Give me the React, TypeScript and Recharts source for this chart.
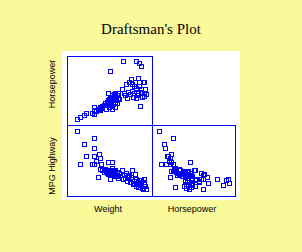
import { ScatterChart, Scatter, XAxis, YAxis } from "recharts";

// one entry per car: weight (lbs), horsepower, highway mpg
const weight = [
  1840, 1960, 2090, 2460, 2180, 2370, 2440, 2460, 2470, 2540, 2600, 2640, 2650, 2700, 2680,
  2750, 2800, 2850, 2870, 2900, 2920, 2950, 2960, 2980, 3000, 3020, 3040, 3060, 3080, 3100,
  3120, 3140, 3150, 3170, 3190, 3200, 3220, 3240, 3260, 3280, 3300, 3310, 3330, 3200, 3100, 2980,
  3450, 3500, 3550, 3600, 3620, 3650, 3700, 3720, 3750, 3780, 3800, 3820, 3850, 3880, 3900,
  3920, 3950, 3980, 4000, 4050, 4080, 4100, 4120, 4150, 4200, 4230, 4260, 4280, 4190,
  3470, 3930, 4030, 4110, 3030, 3990, 4210, 2935, 3100,
];
const horsepower = [
  63, 71, 80, 84, 89, 87, 112, 95, 100, 96, 100, 104, 102, 110, 114,
  118, 122, 130, 105, 125, 135, 140, 120, 145, 130, 150, 135, 155, 140, 160,
  125, 145, 165, 150, 135, 170, 155, 140, 160, 130, 150, 170, 145, 115, 118, 112,
  185, 170, 160, 206, 150, 175, 213, 165, 225, 180, 206, 155, 200, 171, 215,
  149, 190, 160, 171, 200, 117, 174, 185, 155, 171, 158, 185, 165, 213,
  298, 299, 290, 279, 258, 230, 213, 168, 105,
];
const mpgHighway = [
  48.7, 31.5, 41.9, 40.0, 35.8, 31.5, 45.2, 35.8, 31.5, 33.5, 24.7, 36.7, 34.8, 31.5, 29.0,
  28.5, 27.5, 29.0, 28.0, 27.0, 28.5, 26.5, 27.5, 28.0, 26.0, 27.0, 28.5, 26.5, 27.0, 28.0,
  26.0, 27.5, 25.5, 28.0, 26.5, 27.0, 26.0, 25.5, 27.5, 26.0, 25.5, 24.5, 27.0, 28.5, 29.5, 28.0,
  28.3, 26.0, 24.5, 27.0, 23.0, 25.5, 26.0, 22.5, 25.0, 28.3, 24.0, 21.5, 23.0, 22.0, 26.5,
  20.0, 24.0, 21.0, 19.5, 22.5, 19.5, 20.5, 23.5, 19.0, 21.5, 22.5, 20.0, 18.5, 18.5,
  23.7, 22.0, 23.2, 20.6, 23.7, 21.8, 24.0, 32.7, 32.7,
];

const weightDomain = [1500, 4500];
const hpDomain = [40, 320];
const mpgDomain = [15, 52];

const cars = weight.map((w, i) => ({ weight: w, hp: horsepower[i], mpg: mpgHighway[i] }));

const BLUE = "#0000FF";

// open square marker, snapped to the pixel grid so the 1px outline stays sharp
const Square = (p: any) => (
  <rect
    x={Math.round(p.cx) - 1.5}
    y={Math.round(p.cy) - 1.5}
    width={4}
    height={4}
    fill="none"
    stroke={BLUE}
    strokeWidth={1}
    shapeRendering="crispEdges"
  />
);

function Panel({ left, top, width, height, xKey, yKey, xDomain, yDomain }: any) {
  return (
    <div style={{ position: "absolute", left, top }}>
      <ScatterChart width={width} height={height} margin={{ top: 0, right: 0, bottom: 0, left: 0 }} style={{ overflow: "visible" }}>
        <XAxis type="number" dataKey={xKey} domain={xDomain} hide />
        <YAxis type="number" dataKey={yKey} domain={yDomain} hide />
        <Scatter data={cars} shape={Square} isAnimationActive={false} />
      </ScatterChart>
    </div>
  );
}

export default function App() {
  const label = { fontFamily: "Liberation Sans, Arial, sans-serif", fontSize: 9, fill: "#000" };
  return (
    <div style={{ position: "absolute", left: 0, top: 0, width: 302, height: 252, background: "#FAFA9B", overflow: "hidden" }}>
      <div style={{ position: "absolute", left: 62, top: 51, width: 178, height: 149, background: "#fff" }} />
      <Panel left={67} top={56} width={85} height={69} xKey="weight" yKey="hp" xDomain={weightDomain} yDomain={hpDomain} />
      <Panel left={67} top={125} width={85} height={71} xKey="weight" yKey="mpg" xDomain={weightDomain} yDomain={mpgDomain} />
      <Panel left={152} top={125} width={83} height={71} xKey="hp" yKey="mpg" xDomain={hpDomain} yDomain={mpgDomain} />
      <svg width={302} height={252} style={{ position: "absolute", left: 0, top: 0, pointerEvents: "none" }}>
        <g stroke={BLUE} strokeWidth={1} fill="none" shapeRendering="crispEdges">
          <rect x={67.5} y={56.5} width={85} height={69} />
          <rect x={67.5} y={125.5} width={85} height={71} />
          <rect x={152.5} y={125.5} width={83} height={71} />
        </g>
        <text x={151} y={34} textAnchor="middle" style={{ fontFamily: "Liberation Serif, Times New Roman, serif", fontSize: 15 }}>
          Draftsman's Plot
        </text>
        <text x={108} y={212} textAnchor="middle" style={label}>Weight</text>
        <text x={192} y={212} textAnchor="middle" style={label}>Horsepower</text>
        <text x={55} y={84} textAnchor="middle" transform="rotate(-90 55 84)" style={label}>Horsepower</text>
        <text x={55} y={166} textAnchor="middle" transform="rotate(-90 55 166)" style={label}>MPG Highway</text>
      </svg>
    </div>
  );
}
